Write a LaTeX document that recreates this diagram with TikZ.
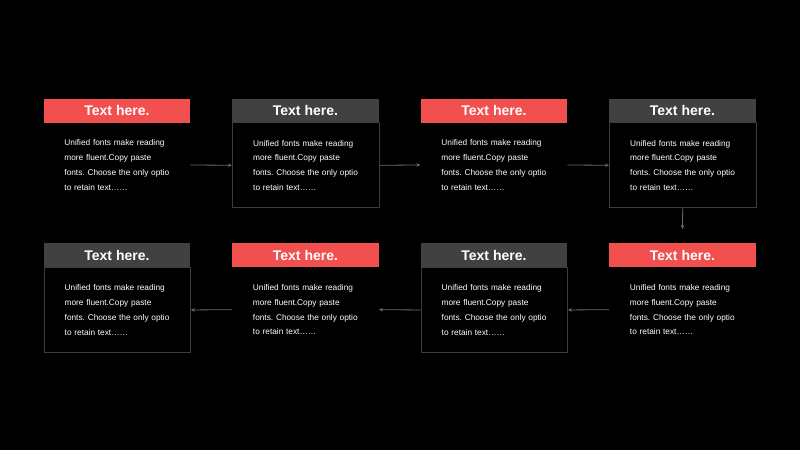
\documentclass[tikz,border=0pt]{standalone}
\usepackage{fontspec}
\setmainfont{Liberation Sans}
\usetikzlibrary{arrows.meta}
\definecolor{redh}{HTML}{F24F4F}
\definecolor{grayh}{HTML}{414141}
\definecolor{bord}{HTML}{3C3C3C}
\definecolor{arrc}{HTML}{6A6A6A}
\frenchspacing
\begin{document}
\begin{tikzpicture}[x=1pt,y=-1pt,
  hdr/.style={rectangle, inner sep=0pt, minimum width=146.5pt, minimum height=24pt, anchor=north west, text=white, font=\bfseries\fontsize{14}{16}\selectfont},
  redhdr/.style={hdr, fill=redh},
  grayhdr/.style={hdr, fill=grayh},
  body/.style={rectangle, inner sep=0pt, minimum width=146.5pt, minimum height=85pt, anchor=north west, text=white, text width=105pt, align=left, font=\fontsize{8.3}{14.8}\selectfont},
  framed/.style={body, draw=bord, line width=0.9pt},
  arr/.style={draw=arrc, line width=0.8pt, -{Stealth[length=4pt,width=3.5pt]}}
]
\fill[black] (0,0) rectangle (800,450);
\useasboundingbox (0,0) rectangle (800,450);
\def\bodytext{Unified fonts make reading\\more fluent.Copy paste\\fonts. Choose the only optio\\to retain text……}
% row 1
\node[redhdr]  (h1) at (43.5,98.3) {Text here.};
\node[grayhdr] (h2) at (232,98.3) {Text here.};
\node[redhdr]  (h3) at (420.5,98.3) {Text here.};
\node[grayhdr] (h4) at (609,98.3) {Text here.};
\node[body]   (b1) at (43.5,122.3) {\bodytext};
\node[framed] (b2) at (232,122.3) {\bodytext};
\node[body]   (b3) at (420.5,122.3) {\bodytext};
\node[framed] (b4) at (609,122.3) {\bodytext};
% row 2
\node[redhdr]  (h5) at (609,243) {Text here.};
\node[grayhdr] (h6) at (420.5,243) {Text here.};
\node[redhdr]  (h7) at (232,243) {Text here.};
\node[grayhdr] (h8) at (43.5,243) {Text here.};
\node[body]   (b5) at (609,267) {\bodytext};
\node[framed] (b6) at (420.5,267) {\bodytext};
\node[body]   (b7) at (232,267) {\bodytext};
\node[framed] (b8) at (43.5,267) {\bodytext};
% connectors
\draw[arr] (b1.east) -- (b2.west);
\draw[arr] (b2.east) -- (b3.west);
\draw[arr] (b3.east) -- (b4.west);
\draw[arr] (b4.south) -- ([yshift=14pt]h5.north);
\draw[arr] (b5.west) -- (b6.east);
\draw[arr] (b6.west) -- (b7.east);
\draw[arr] (b7.west) -- (b8.east);
\end{tikzpicture}
\end{document}
